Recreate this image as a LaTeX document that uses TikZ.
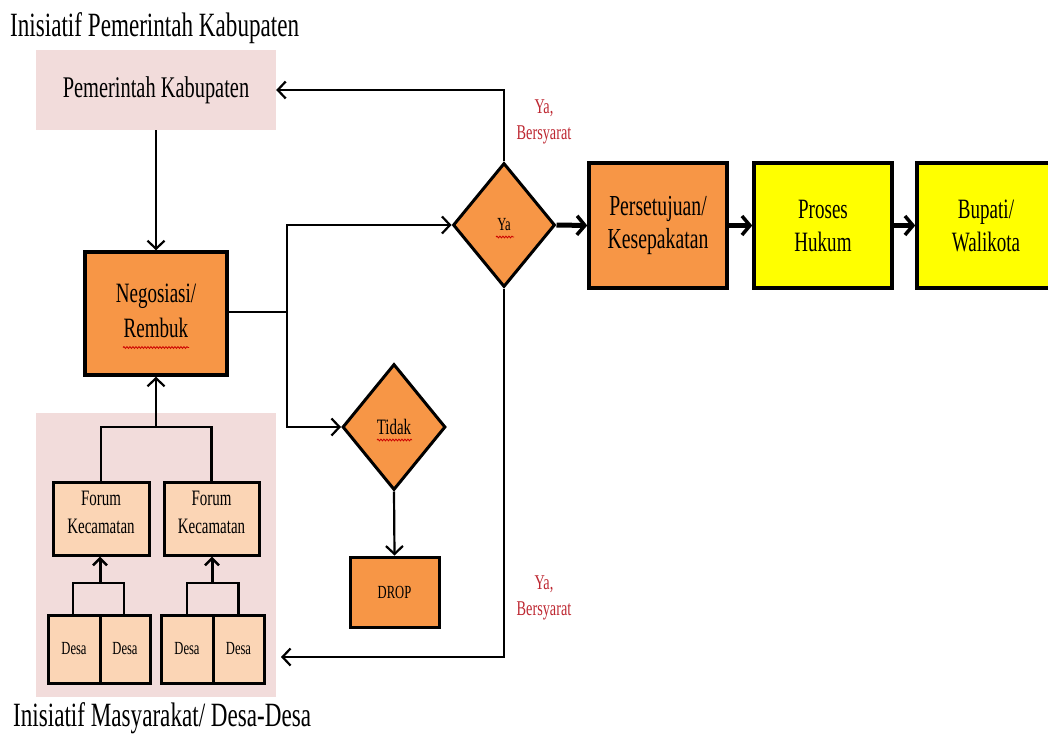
\documentclass[tikz,border=0pt]{standalone}
\usepackage{fontspec}
\setmainfont{Liberation Serif}[FakeStretch=0.68]
\usetikzlibrary{arrows.meta,shapes.geometric,decorations.pathmorphing}
\definecolor{pinkbg}{HTML}{F2DCDB}
\definecolor{orangebox}{HTML}{F79646}
\definecolor{peach}{HTML}{FBD5B5}
\definecolor{yellowbox}{HTML}{FFFF00}
\definecolor{redlabel}{RGB}{190,40,50}
\tikzset{
  fs/.style 2 args={font=\fontsize{#1}{#2}\selectfont},
  bigbox/.style={rectangle, draw=black, line width=3.5pt, align=center, inner sep=0pt},
  smallbox/.style={rectangle, draw=black, line width=3pt, fill=peach, align=center, inner sep=0pt},
  decision/.style={diamond, draw=black, line width=3pt, fill=orangebox, inner sep=0pt, align=center},
  thinline/.style={line width=2.2pt},
  thinarrow/.style={line width=2.2pt, -{Straight Barb[length=8pt,width=17pt,line width=2.2pt]}},
  thickarrow/.style={line width=5pt, -{Straight Barb[length=8pt,width=19pt,line width=3.5pt]}},
  medarrow/.style={line width=3pt, -{Straight Barb[length=7pt,width=14pt,line width=2.5pt]}},
  redtext/.style={text=redlabel, align=center, fs={21}{26}},
  squiggle/.style={draw=red!80!black, line width=0.8pt, decorate, decoration={snake, segment length=3pt, amplitude=0.9pt}},
}
\begin{document}
\begin{tikzpicture}[x=1pt,y=-1pt]
\clip (0,0) rectangle (1048,738);
\fill[white] (0,0) rectangle (1048,738);

% titles
\node[anchor=west, inner sep=0pt, fs={34}{38}] (t1) at (10,28) {Inisiatif Pemerintah Kabupaten};
\node[anchor=west, inner sep=0pt, fs={34}{38}] (t2) at (13,718) {Inisiatif Masyarakat/ Desa-Desa};

% backgrounds
\node[rectangle, fill=pinkbg, minimum width=240pt, minimum height=80pt, inner sep=0pt, fs={30}{34}] (pk) at (156,90) {Pemerintah Kabupaten};
\node[rectangle, fill=pinkbg, minimum width=240pt, minimum height=284pt, inner sep=0pt] (bg2) at (156,555) {};

% main boxes
\node[bigbox, fill=orangebox, minimum width=142pt, minimum height=123pt, fs={28}{35}] (neg) at (156,313.5) {Negosiasi/\\Rembuk\\[-30pt]\mbox{}};
\node[decision, minimum width=102pt, minimum height=124pt, fs={18.5}{22}] (ya) at (504,225) {Ya};
\node[decision, minimum width=103pt, minimum height=126pt, fs={22}{26}] (tidak) at (394,427) {Tidak};
\node[bigbox, fill=orangebox, line width=3pt, minimum width=89pt, minimum height=70pt, fs={18.5}{22}] (drop) at (394.5,592) {DROP};
\node[bigbox, fill=orangebox, minimum width=138pt, minimum height=125pt, fs={29}{33}] (per) at (658,225.5) {Persetujuan/\\Kesepakatan};
\node[bigbox, fill=yellowbox, minimum width=138pt, minimum height=125pt, fs={28}{33}] (pro) at (823,225.5) {Proses\\Hukum};
\node[bigbox, fill=yellowbox, minimum width=138pt, minimum height=125pt, fs={28}{33}] (bup) at (986,225.5) {Bupati/\\Walikota};

% forum and desa
\node[smallbox, minimum width=96pt, minimum height=73pt, fs={22}{29}] (f1) at (101,518.5) {Forum\\[-1pt]Kecamatan\\[-17pt]\mbox{}};
\node[smallbox, minimum width=95pt, minimum height=73pt, fs={22}{29}] (f2) at (211.5,518.5) {Forum\\[-1pt]Kecamatan\\[-17pt]\mbox{}};
\node[smallbox, minimum width=52pt, minimum height=68pt, fs={18.5}{22}] (d1) at (74,649) {Desa};
\node[smallbox, minimum width=50pt, minimum height=68pt, fs={18.5}{22}] (d2) at (125,649) {Desa};
\node[smallbox, minimum width=52pt, minimum height=68pt, fs={18.5}{22}] (d3) at (187,649) {Desa};
\node[smallbox, minimum width=51pt, minimum height=68pt, fs={18.5}{22}] (d4) at (238.5,649) {Desa};

% red labels
\node[redtext] (lab1) at (544,122) {Ya,\\Bersyarat};
\node[redtext] (lab2) at (544,598) {Ya,\\Bersyarat};

% junction coordinates
\coordinate (j1) at (287,312);
\coordinate (jn) at (156,427);
\coordinate (jf1) at (100,583);
\coordinate (jf2) at (212,583);
\coordinate (bgin) at (281,657);

% connectors
\draw[thinarrow] (pk.south) -- (neg.north);
\draw[thinline] (neg.east |- j1) -- (j1);
\draw[thinarrow] (j1) |- (ya.west);
\draw[thinarrow] (j1) |- (tidak.west);
\draw[thinarrow] (ya.north) |- (pk.east);
\draw[thinarrow] (ya.south) |- (bgin);
\draw[thinarrow] (tidak.south) -- (drop.north);
\draw[thickarrow] (ya.east) -- (per.west);
\draw[thickarrow] (per.east) -- (pro.west);
\draw[thickarrow] (pro.east) -- (bup.west);

% tree
\draw[thinline] (f1.north) |- (jn);
\draw[thinline] (f2.north) |- (jn);
\draw[thinarrow] (jn) -- (neg.south);
\draw[thinline] ([xshift=-1pt]d1.north) |- (jf1) -| ([xshift=-1pt]d2.north);
\draw[medarrow] (jf1) -- (f1.south -| jf1);
\draw[thinline] (d3.north) |- (jf2) -| (d4.north);
\draw[medarrow] (jf2) -- (f2.south -| jf2);

% spell-check squiggles
\draw[squiggle] ([xshift=-8pt,yshift=-12pt]ya.center) -- ([xshift=10pt,yshift=-12pt]ya.center);
\draw[squiggle] ([xshift=-17pt,yshift=-13pt]tidak.center) -- ([xshift=18pt,yshift=-13pt]tidak.center);
\draw[squiggle] ([xshift=-33pt,yshift=-34pt]neg.center) -- ([xshift=33pt,yshift=-34pt]neg.center);
\end{tikzpicture}
\end{document}
